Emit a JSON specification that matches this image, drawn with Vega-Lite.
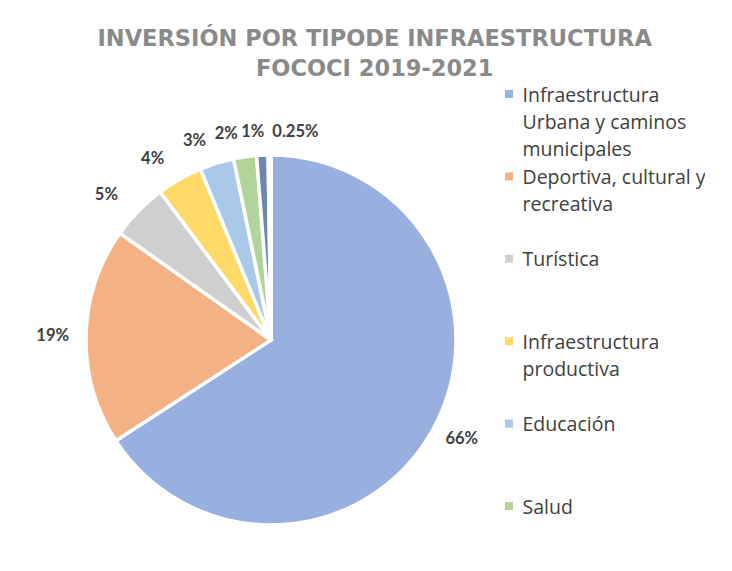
{
  "$schema": "https://vega.github.io/schema/vega-lite/v6.json",
  "padding": {"left": 36, "top": 28, "right": 0, "bottom": 0},
  "background": "white",
  "bounds": "flush",
  "spacing": 3,
  "title": {
    "text": ["INVERSIÓN POR TIPODE INFRAESTRUCTURA", "FOCOCI 2019-2021"],
    "font": "DejaVu Sans",
    "fontSize": 22.5,
    "fontWeight": "bold",
    "color": "#8a8a8a",
    "lineHeight": 29.5,
    "anchor": "middle",
    "dx": 4,
    "offset": 5
  },
  "data": {
    "values": [
      {"categoria": "Infraestructura Urbana y caminos municipales", "valor": 0.66, "orden": 1},
      {"categoria": "Deportiva, cultural y recreativa", "valor": 0.19, "orden": 2},
      {"categoria": "Turística", "valor": 0.05, "orden": 3},
      {"categoria": "Infraestructura productiva", "valor": 0.04, "orden": 4},
      {"categoria": "Educación", "valor": 0.03, "orden": 5},
      {"categoria": "Salud", "valor": 0.02, "orden": 6},
      {"categoria": "Otros", "valor": 0.01, "orden": 7},
      {"categoria": "Otros menores", "valor": 0.0025, "orden": 8}
    ]
  },
  "hconcat": [
    {
      "width": 460,
      "height": 492,
      "encoding": {
        "theta": {"field": "valor", "type": "quantitative", "stack": true},
        "order": {"field": "orden", "type": "quantitative"}
      },
      "layer": [
        {
          "mark": {"type": "arc", "outerRadius": 185, "stroke": "white", "strokeWidth": 3.5},
          "encoding": {
            "color": {
              "field": "categoria",
              "type": "nominal",
              "legend": null,
              "scale": {
                "domain": ["Infraestructura Urbana y caminos municipales", "Deportiva, cultural y recreativa", "Turística", "Infraestructura productiva", "Educación", "Salud", "Otros", "Otros menores"],
                "range": ["#98B0E0", "#F4B183", "#CFCFCF", "#FFD966", "#A9C9E8", "#B0D49A", "#6F86AE", "#C98A5C"]
              }
            }
          }
        },
        {
          "mark": {
            "type": "text",
            "radius": 208,
            "font": "Lato",
            "fontSize": 16.5,
            "fontWeight": "bold",
            "color": "#404040",
            "align": {"expr": "datum.valor < 0.005 ? 'left' : datum.valor < 0.5 ? 'right' : 'center'"},
            "dx": {"expr": "datum.valor > 0.5 ? 8 : datum.valor < 0.015 ? 3 : datum.valor > 0.1 ? 6 : -4"},
            "baseline": "middle"
          },
          "encoding": {
            "text": {"field": "valor", "type": "quantitative", "format": ".2~%"}
          }
        }
      ]
    },
    {
      "width": 10,
      "height": 412,
      "transform": [{"filter": "datum.orden <= 6"}],
      "mark": {"type": "point", "shape": "square", "filled": true, "opacity": 1, "size": 64},
      "encoding": {
        "y": {
          "field": "categoria",
          "type": "nominal",
          "sort": {"field": "orden"},
          "scale": {"padding": 0},
          "axis": {
            "orient": "right",
            "title": null,
            "domain": false,
            "ticks": false,
            "grid": false,
            "labelPadding": 8,
            "labelFont": "Open Sans",
            "labelFontSize": 19.5,
            "labelColor": "#404040",
            "labelLineHeight": 27,
            "labelBaseline": "alphabetic",
            "labelOffset": 7,
            "labelLimit": 0,
            "labelAlign": "left",
            "labelOverlap": false,
            "labelExpr": "datum.label == 'Infraestructura Urbana y caminos municipales' ? ['Infraestructura', 'Urbana y caminos', 'municipales'] : datum.label == 'Deportiva, cultural y recreativa' ? ['Deportiva, cultural y', 'recreativa'] : datum.label == 'Infraestructura productiva' ? ['Infraestructura', 'productiva'] : datum.label"
          }
        },
        "color": {"field": "categoria", "type": "nominal", "legend": null}
      }
    }
  ],
  "config": {"view": {"stroke": null}}
}
